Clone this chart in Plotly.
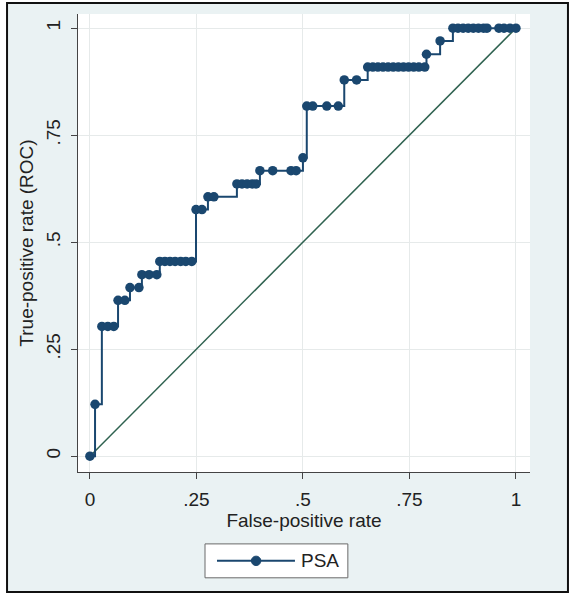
import plotly.graph_objects as go

# ROC points
fpr = [0.0, 0.012,
       0.028, 0.042, 0.056,
       0.066, 0.082,
       0.094, 0.115,
       0.122, 0.139, 0.157,
       0.164, 0.176, 0.188, 0.200, 0.213, 0.225, 0.239,
       0.249, 0.263,
       0.277, 0.291,
       0.345, 0.357, 0.369, 0.381, 0.390,
       0.399, 0.429, 0.472, 0.484,
       0.500,
       0.509, 0.523, 0.556, 0.583,
       0.597, 0.626,
       0.652, 0.664, 0.676, 0.688, 0.700, 0.712, 0.724, 0.736, 0.748, 0.760, 0.772, 0.786,
       0.790,
       0.822,
       0.852, 0.864, 0.876, 0.888, 0.900, 0.912, 0.924, 0.932, 0.960, 0.972, 0.986, 1.0]
tpr = [0.0, 0.121,
       0.303, 0.303, 0.303,
       0.364, 0.364,
       0.394, 0.394,
       0.424, 0.424, 0.424,
       0.455, 0.455, 0.455, 0.455, 0.455, 0.455, 0.455,
       0.576, 0.576,
       0.606, 0.606,
       0.636, 0.636, 0.636, 0.636, 0.636,
       0.667, 0.667, 0.667, 0.667,
       0.697,
       0.818, 0.818, 0.818, 0.818,
       0.879, 0.879,
       0.909, 0.909, 0.909, 0.909, 0.909, 0.909, 0.909, 0.909, 0.909, 0.909, 0.909, 0.909,
       0.939,
       0.970,
       1.0, 1.0, 1.0, 1.0, 1.0, 1.0, 1.0, 1.0, 1.0, 1.0, 1.0, 1.0]
ref_x = [0.0, 1.0]
ref_y = [0.0, 1.0]
tick_vals = [0, 0.25, 0.5, 0.75, 1]
tick_text = ["0", ".25", ".5", ".75", "1"]
series_name = "PSA"

NAVY = "#1a476f"
BG = "#eaf2f3"
FONT = "Liberation Sans, Arial, sans-serif"
FS = 19

fig = go.Figure()
fig.add_trace(go.Scatter(x=ref_x, y=ref_y, mode="lines",
                         line=dict(color="#2f6250", width=1.5),
                         showlegend=False, hoverinfo="skip"))
fig.add_trace(go.Scatter(x=fpr, y=tpr, mode="lines+markers", name=series_name,
                         line=dict(color=NAVY, width=2, shape="hv"),
                         marker=dict(color=NAVY, size=9.5),
                         showlegend=False))

# background with a hole for the plot area, and outer border
x0, x1, y0, y1 = -0.157, 1.084, -0.262, 1.024
fig.add_shape(type="path", xref="paper", yref="paper", layer="below",
              path=f"M{x0},{y0} L{x1},{y0} L{x1},{y1} L{x0},{y1} Z M0,0 L1,0 L1,1 L0,1 Z",
              fillcolor=BG, line=dict(width=0))
fig.add_shape(type="rect", xref="paper", yref="paper", x0=x0, x1=x1, y0=y0, y1=y1,
              line=dict(color="#111111", width=2), fillcolor="rgba(0,0,0,0)")

# legend box (drawn to match the long key line of the original)
fig.add_shape(type="rect", xref="paper", yref="paper", x0=0.281, x1=0.597, y0=-0.231, y1=-0.157,
              line=dict(color="#6a6a6a", width=1), fillcolor="white")
fig.add_shape(type="line", xref="paper", yref="paper", x0=0.3075, x1=0.480, y0=-0.194, y1=-0.194,
              line=dict(color=NAVY, width=2))
fig.add_shape(type="circle", xref="paper", yref="paper",
              x0=0.394 - 0.0105, x1=0.394 + 0.0105, y0=-0.194 - 0.0103, y1=-0.194 + 0.0103,
              line=dict(color=NAVY, width=1), fillcolor=NAVY)
fig.add_annotation(xref="paper", yref="paper", x=0.489, y=-0.194, text=series_name,
                   showarrow=False, xanchor="left", yanchor="middle",
                   font=dict(family=FONT, size=FS, color="#222222"))

axis_common = dict(tickvals=tick_vals, ticktext=tick_text, showgrid=True,
                   gridcolor="#e6eaea", gridwidth=1, zeroline=False,
                   showline=True, linecolor="#444444", linewidth=1,
                   ticks="outside", ticklen=6, tickcolor="#444444",
                   tickfont=dict(family=FONT, size=FS, color="#222222"))

fig.update_layout(
    width=573, height=599,
    margin=dict(l=78, r=43, t=14, b=127),
    paper_bgcolor="white", plot_bgcolor="white",
    font=dict(family=FONT, color="#222222"),
    xaxis=dict(range=[-0.028, 1.033], ticklabelstandoff=4,
               title=dict(text="False-positive rate", font=dict(family=FONT, size=FS), standoff=2),
               **axis_common),
    yaxis=dict(range=[-0.037, 1.033], tickangle=-90, ticklabelstandoff=3,
               title=dict(text="True-positive rate (ROC)", font=dict(family=FONT, size=FS), standoff=4),
               **axis_common),
    showlegend=False,
)

fig.write_html("out.html")
